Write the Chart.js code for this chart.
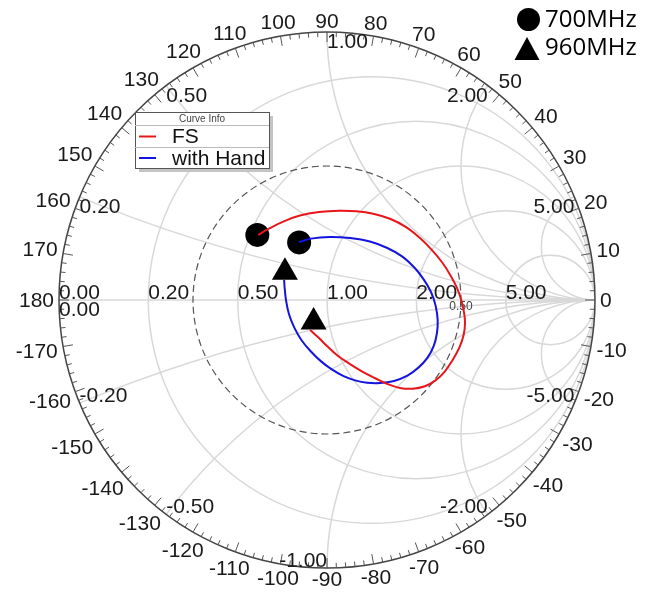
<!DOCTYPE html>
<html><head><meta charset="utf-8">
<script src="https://cdn.jsdelivr.net/npm/chart.js@4/dist/chart.umd.min.js"></script>
<style>html,body{margin:0;padding:0;background:#fff;}#wrap{width:648px;height:596px;position:relative;}</style>
</head><body><div id="wrap"><canvas id="c" width="648" height="596"></canvas></div>
<script>
// ---- data (reflection coefficient: real / imaginary parts) ----
const seriesNames = ['FS', 'with Hand'];
const fsRe = [-0.257,-0.213,-0.157,-0.101,-0.030,0.045,0.110,0.172,0.235,0.295,0.345,0.390,0.430,0.462,0.485,0.501,0.511,0.515,0.510,0.495,0.470,0.440,0.405,0.365,0.320,0.272,0.224,0.180,0.130,0.086,0.040,0.000,-0.030,-0.063];
const fsIm = [0.243,0.268,0.295,0.315,0.328,0.333,0.331,0.322,0.303,0.272,0.233,0.188,0.140,0.090,0.045,0.000,-0.045,-0.085,-0.130,-0.175,-0.222,-0.266,-0.300,-0.322,-0.331,-0.328,-0.313,-0.292,-0.266,-0.239,-0.208,-0.172,-0.142,-0.112];
const handRe = [-0.104,-0.060,0.011,0.086,0.160,0.225,0.280,0.325,0.360,0.388,0.405,0.413,0.410,0.398,0.375,0.342,0.300,0.250,0.198,0.150,0.105,0.060,0.018,-0.022,-0.060,-0.095,-0.122,-0.142,-0.153,-0.158,-0.160];
const handIm = [0.216,0.229,0.235,0.231,0.218,0.194,0.163,0.122,0.078,0.030,-0.020,-0.075,-0.125,-0.172,-0.215,-0.252,-0.282,-0.302,-0.310,-0.309,-0.300,-0.283,-0.259,-0.229,-0.192,-0.150,-0.103,-0.052,0.000,0.045,0.075];
const freqLabels = ['700MHz', '960MHz'];
const marker700Re = [-0.260, -0.104];
const marker700Im = [0.243, 0.215];
const marker960Re = [-0.157, -0.050];
const marker960Im = [0.104, -0.082];
// ---- grid / tick labels ----
const resistanceGrid = [0.2, 0.5, 1, 2, 5];
const reactanceGrid = [0.2, 0.5, 1, 2, 5, -0.2, -0.5, -1, -2, -5];
const resistanceLabels = ['0.00','0.20','0.50','1.00','2.00','5.00'];
const resistanceLabelValues = [0, 0.2, 0.5, 1, 2, 5];
const reactanceLabels = ['0.00','0.20','0.50','1.00','2.00','5.00','-0.20','-0.50','-1.00','-2.00','-5.00'];
const reactanceLabelValues = [0, 0.2, 0.5, 1, 2, 5, -0.2, -0.5, -1, -2, -5];
const angleLabels = [0,10,20,30,40,50,60,70,80,90,100,110,120,130,140,150,160,170,180,-10,-20,-30,-40,-50,-60,-70,-80,-90,-100,-110,-120,-130,-140,-150,-160,-170];
const gammaCircle = [0.5];
const gammaCircleLabels = ['0.50'];

const FONT = '"Liberation Sans", Arial, sans-serif';

const pts = (re, im) => re.map((v, i) => ({x: v, y: im[i]}));

const smithPlugin = {
  id: 'smith',
  beforeDatasetsDraw(chart) {
    const ctx = chart.ctx, xs = chart.scales.x, ys = chart.scales.y;
    const cx = xs.getPixelForValue(0), cy = ys.getPixelForValue(0);
    const R = xs.getPixelForValue(1) - cx;
    const P = (a, b) => [xs.getPixelForValue(a), ys.getPixelForValue(b)];
    ctx.save();
    ctx.beginPath(); ctx.arc(cx, cy, R, 0, 2 * Math.PI); ctx.clip();
    ctx.strokeStyle = '#d8d8d8'; ctx.lineWidth = 1.5;
    resistanceGrid.forEach(r => {
      const [px, py] = P(r / (1 + r), 0);
      ctx.beginPath(); ctx.arc(px, py, R / (1 + r), 0, 2 * Math.PI); ctx.stroke();
    });
    reactanceGrid.forEach(x => {
      const [px, py] = P(1, 1 / x);
      ctx.beginPath(); ctx.arc(px, py, R / Math.abs(x), 0, 2 * Math.PI); ctx.stroke();
    });
    ctx.beginPath(); ctx.moveTo(cx - R, cy); ctx.lineTo(cx + R, cy); ctx.stroke();
    ctx.restore();

    ctx.save();
    ctx.strokeStyle = '#555'; ctx.lineWidth = 1.2; ctx.setLineDash([7, 4]);
    gammaCircle.forEach(g => { ctx.beginPath(); ctx.arc(cx, cy, R * g, 0, 2 * Math.PI); ctx.stroke(); });
    ctx.setLineDash([]);
    ctx.strokeStyle = '#444'; ctx.lineWidth = 1.5;
    ctx.beginPath(); ctx.arc(cx, cy, R, 0, 2 * Math.PI); ctx.stroke();
    ctx.lineWidth = 1; ctx.strokeStyle = '#555';
    for (let d = -178; d <= 180; d += 2) {
      const a = d * Math.PI / 180, len = (d % 10 === 0) ? 10 : 5;
      ctx.beginPath();
      ctx.moveTo(cx + R * Math.cos(a), cy - R * Math.sin(a));
      ctx.lineTo(cx + (R - len) * Math.cos(a), cy - (R - len) * Math.sin(a));
      ctx.stroke();
    }
    ctx.fillStyle = '#1a1a1a'; ctx.font = '21px ' + FONT;
    ctx.textAlign = 'center'; ctx.textBaseline = 'middle';
    angleLabels.forEach(d => {
      const a = d * Math.PI / 180, t = String(d), w = ctx.measureText(t).width;
      const dist = R + 5 + (w / 2) * Math.abs(Math.cos(a)) + 6 * Math.abs(Math.sin(a));
      ctx.fillText(t, cx + dist * Math.cos(a), cy - dist * Math.sin(a) + 1);
    });
    ctx.textAlign = 'left'; ctx.textBaseline = 'alphabetic';
    resistanceLabelValues.forEach((r, i) => {
      const [px, py] = P((r - 1) / (r + 1), 0);
      ctx.fillText(resistanceLabels[i], px, py - 1);
    });
    reactanceLabelValues.forEach((x, i) => {
      const gr = (x * x - 1) / (x * x + 1), gi = 2 * x / (x * x + 1);
      const [px, py] = P(gr, gi);
      ctx.textAlign = (gr < -1e-6 || (Math.abs(gr) < 1e-6 && x > 0)) ? 'left' : 'right';
      if (x >= 0) { ctx.textBaseline = 'top'; ctx.fillText(reactanceLabels[i], px, py); }
      else { ctx.textBaseline = 'alphabetic'; ctx.fillText(reactanceLabels[i], px, py - 1); }
    });
    ctx.font = '12px ' + FONT; ctx.fillStyle = '#444';
    ctx.textAlign = 'center'; ctx.textBaseline = 'top';
    gammaCircle.forEach((g, i) => { const [px, py] = P(g, 0); ctx.fillText(gammaCircleLabels[i], px, py + 1); });
    ctx.restore();
  },
  afterDatasetsDraw(chart) {
    const ctx = chart.ctx;
    ctx.save();
    const bx = 135, by = 112, bw = 134, bh = 56;
    ctx.fillStyle = '#c4c4c4'; ctx.fillRect(bx + 4, by + 4, bw, bh);
    ctx.fillStyle = '#fff'; ctx.fillRect(bx, by, bw, bh);
    ctx.strokeStyle = '#555'; ctx.lineWidth = 1; ctx.strokeRect(bx + 0.5, by + 0.5, bw, bh);
    ctx.strokeStyle = '#bbb';
    ctx.beginPath(); ctx.moveTo(bx, 125.5); ctx.lineTo(bx + bw, 125.5); ctx.stroke();
    ctx.beginPath(); ctx.moveTo(bx, 147.5); ctx.lineTo(bx + bw, 147.5); ctx.stroke();
    ctx.fillStyle = '#444'; ctx.font = '10px ' + FONT; ctx.textAlign = 'center'; ctx.textBaseline = 'middle';
    ctx.fillText('Curve Info', bx + bw / 2, 119);
    const cols = ['#e8161b', '#1414e0'], ys2 = [136.5, 158];
    ctx.font = '21px ' + FONT; ctx.textAlign = 'left';
    seriesNames.forEach((n, i) => {
      ctx.strokeStyle = cols[i]; ctx.lineWidth = 2;
      ctx.beginPath(); ctx.moveTo(139, ys2[i]); ctx.lineTo(156, ys2[i]); ctx.stroke();
      ctx.fillStyle = '#111'; ctx.fillText(n, 172, ys2[i] + 1);
    });
    ctx.fillStyle = '#000';
    ctx.beginPath(); ctx.arc(528.5, 19.5, 11.5, 0, 2 * Math.PI); ctx.fill();
    ctx.beginPath(); ctx.moveTo(527, 37); ctx.lineTo(539.5, 60); ctx.lineTo(514.5, 60); ctx.closePath(); ctx.fill();
    ctx.font = '24px "Open Sans", sans-serif'; ctx.textBaseline = 'middle';
    ctx.fillText(freqLabels[0], 545, 20);
    ctx.fillText(freqLabels[1], 545, 48);
    ctx.restore();
  }
};

new Chart(document.getElementById('c'), {
  type: 'scatter',
  data: {
    datasets: [
      { label: seriesNames[0], data: pts(fsRe, fsIm), showLine: true, borderColor: '#e8161b', borderWidth: 2, pointRadius: 0, tension: 0.4, fill: false },
      { label: seriesNames[1], data: pts(handRe, handIm), showLine: true, borderColor: '#1414e0', borderWidth: 2, pointRadius: 0, tension: 0.4, fill: false },
      { label: freqLabels[0], data: pts(marker700Re, marker700Im), showLine: false, pointStyle: 'circle', pointRadius: 12, backgroundColor: '#000', borderColor: '#000', borderWidth: 0 },
      { label: freqLabels[1], data: pts(marker960Re, marker960Im), showLine: false, pointStyle: 'triangle', pointRadius: 15, backgroundColor: '#000', borderColor: '#000', borderWidth: 0 }
    ]
  },
  options: {
    responsive: false, animation: false,
    layout: { padding: { left: 59, right: 53, top: 32, bottom: 28 } },
    scales: {
      x: { type: 'linear', min: -1, max: 1, display: false },
      y: { type: 'linear', min: -1, max: 1, display: false }
    },
    plugins: { legend: { display: false }, tooltip: { enabled: false }, title: { display: false } }
  },
  plugins: [smithPlugin]
});
</script></body></html>
